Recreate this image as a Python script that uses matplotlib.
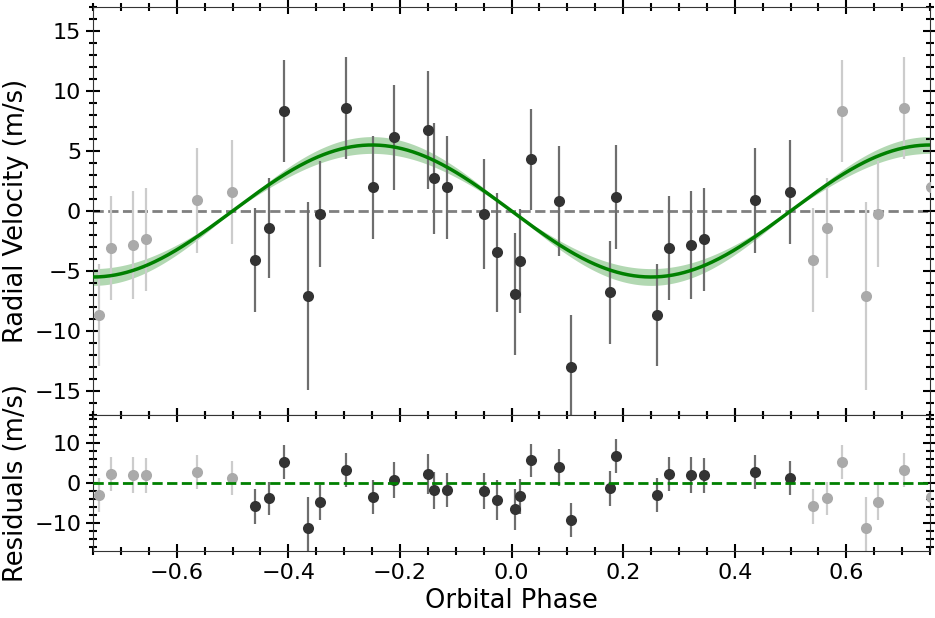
import matplotlib
matplotlib.use('Agg')
import matplotlib.pyplot as plt
import numpy as np
from matplotlib.ticker import AutoMinorLocator

# phase-folded data
phase = [-0.459, -0.434, -0.408, -0.364, -0.344, -0.297, -0.249, -0.211, -0.150, -0.139,
         -0.116, -0.050, -0.026, 0.007, 0.016, 0.035, 0.085, 0.106, 0.177, 0.188,
         0.260, 0.282, 0.321, 0.345, 0.437, 0.499]
rv = [-4.08, -1.44, 8.33, -7.08, -0.25, 8.56, 1.97, 6.14, 6.75, 2.72,
      1.97, -0.25, -3.44, -6.92, -4.17, 4.31, 0.83, -13.03, -6.78, 1.14,
      -8.69, -3.08, -2.86, -2.36, 0.89, 1.56]
rv_err = [4.35, 4.18, 4.24, 7.85, 4.44, 4.25, 4.32, 4.38, 4.94, 4.61,
          4.32, 4.6, 4.96, 5.1, 4.35, 4.19, 4.61, 4.35, 4.3, 4.32,
          4.24, 4.3, 4.5, 4.3, 4.36, 4.35]
resid = [-5.83, -3.83, 5.17, -11.25, -4.83, 3.17, -3.5, 0.75, 2.25, -1.83,
         -1.75, -2.0, -4.3, -6.6, -3.33, 5.67, 3.92, -9.25, -1.33, 6.75,
         -3.08, 2.25, 1.92, 1.92, 2.75, 1.25]

# fitted circular orbit
K = 5.5
K_err = 0.7

phase = np.array(phase)
rv = np.array(rv)
rv_err = np.array(rv_err)
resid = np.array(resid)

fig = plt.figure(figsize=(9.35, 6.18), dpi=100)
gs = fig.add_gridspec(2, 1, height_ratios=[3, 1], hspace=0,
                      left=0.0995, right=0.9947, top=0.9887, bottom=0.1084)
ax1 = fig.add_subplot(gs[0])
ax2 = fig.add_subplot(gs[1], sharex=ax1)

pm = np.linspace(-0.75, 0.75, 600)
model = -K * np.sin(2 * np.pi * pm)
lo = -(K - K_err) * np.sin(2 * np.pi * pm)
hi = -(K + K_err) * np.sin(2 * np.pi * pm)

ax1.fill_between(pm, np.minimum(lo, hi), np.maximum(lo, hi), color='green', alpha=0.3, lw=0)
ax1.plot(pm, model, color='green', lw=2.5, zorder=4)
ax1.axhline(0, color='gray', ls='--', lw=2, zorder=1)
ax2.axhline(0, color='green', ls='--', lw=2, zorder=4)

for ax, y in ((ax1, rv), (ax2, resid)):
    ax.errorbar(phase, y, yerr=rv_err, fmt='none', ecolor='#6e6e6e', elinewidth=1.6, zorder=2)
    ax.plot(phase, y, 'o', color='#333333', ms=8, mec='none', zorder=3)
    for shift in (-1, 1):
        ax.errorbar(phase + shift, y, yerr=rv_err, fmt='none', ecolor='#cccccc',
                    elinewidth=1.6, zorder=2)
        ax.plot(phase + shift, y, 'o', color='#aaaaaa', ms=8, mec='none', zorder=3)

ax1.set_xlim(-0.75, 0.75)
ax1.set_ylim(-17, 17)
ax2.set_ylim(-17, 17)
ax1.set_yticks([-15, -10, -5, 0, 5, 10, 15])
ax2.set_yticks([-10, 0, 10])

for ax in (ax1, ax2):
    ax.xaxis.set_minor_locator(AutoMinorLocator())
    ax.yaxis.set_minor_locator(AutoMinorLocator())
    ax.tick_params(which='both', direction='inout', top=True, right=True, labelsize=16)
    ax.tick_params(which='major', length=10, width=1.5)
    ax.tick_params(which='minor', length=6, width=1.5)
    for s in ax.spines.values():
        s.set_color('#333333')

plt.setp(ax1.get_xticklabels(), visible=False)
ax1.set_ylabel('Radial Velocity (m/s)', fontsize=18.5)
ax2.set_ylabel('Residuals (m/s)', fontsize=18.5)
ax2.set_xlabel('Orbital Phase', fontsize=18.5)
fig.align_ylabels([ax1, ax2])

plt.savefig('out.png', dpi=100)
